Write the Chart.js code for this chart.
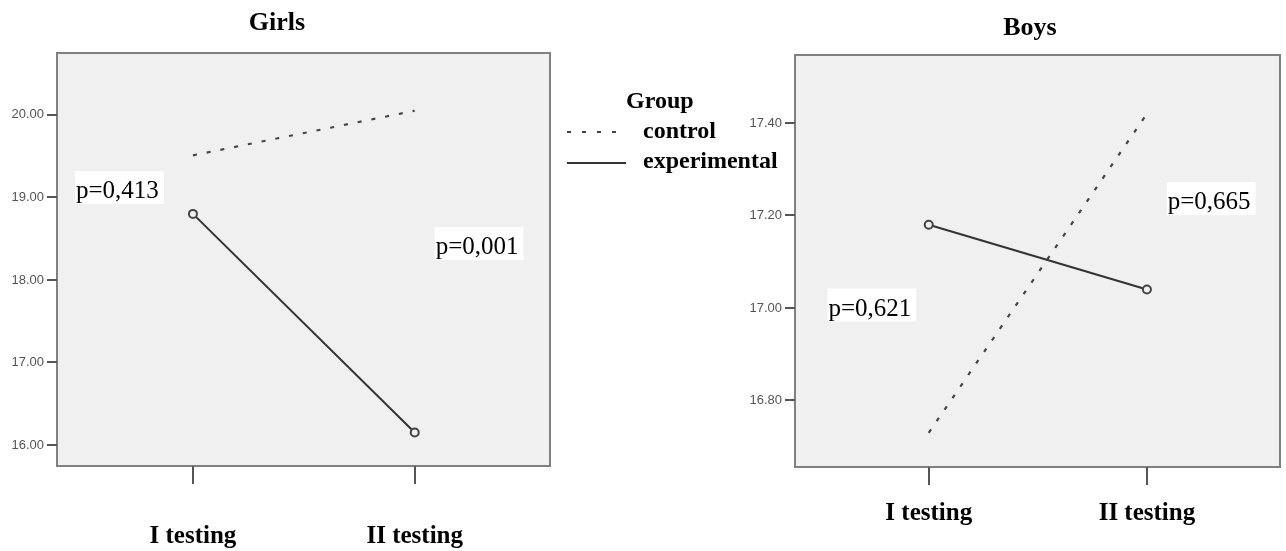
<!DOCTYPE html>
<html>
<head>
<meta charset="utf-8">
<script src="https://cdn.jsdelivr.net/npm/chart.js@4.4.1/dist/chart.umd.min.js"></script>
<style>
  html, body { margin: 0; padding: 0; background: #fff; }
  body { width: 1286px; height: 551px; position: relative; overflow: hidden; }
  #girls-chart { position: absolute; left: 0; top: 0; }
  #boys-chart { position: absolute; left: 700px; top: 0; }
</style>
</head>
<body>
<canvas id="girls-chart" width="790" height="551"></canvas>
<canvas id="boys-chart" width="586" height="551"></canvas>
<script>
// values
const categories = ["I testing", "II testing"];
const girlsControl = [19.51, 20.05];
const girlsExperimental = [18.80, 16.15];
const boysControl = [16.73, 17.42];
const boysExperimental = [17.18, 17.04];
const girlsTicks = [16, 17, 18, 19, 20];
const boysTicks = [16.8, 17.0, 17.2, 17.4];
const legendTitle = "Group";
const groupNames = ["control", "experimental"];

// p-value notes, placed in data units (x = testing index, y = value at the box top)
const girlsNotes = [
    { text: "p=0,413", x: 0.468, y: 19.32 },
    { text: "p=0,001", x: 2.09, y: 18.64 }
];
const boysNotes = [
    { text: "p=0,621", x: 0.536, y: 17.042 },
    { text: "p=0,665", x: 2.091, y: 17.272 }
];

const serif = "'Liberation Serif', 'Times New Roman', serif";

function toPoints(values) {
    return values.map((v, i) => ({ x: i + 1, y: v }));
}

// background, frame, title, notes and (optionally) the shared legend
const panelDecor = {
    id: "panelDecor",
    beforeDraw(chart, args, opts) {
        const { ctx, chartArea: a } = chart;
        ctx.save();
        ctx.fillStyle = "#f0f0f0";
        ctx.fillRect(a.left, a.top, a.right - a.left, a.bottom - a.top);
        ctx.strokeStyle = "#808080";
        ctx.lineWidth = 2;
        ctx.strokeRect(a.left, a.top, a.right - a.left, a.bottom - a.top);
        ctx.restore();
    },
    afterDatasetsDraw(chart, args, opts) {
        const { ctx } = chart;
        const xs = chart.scales.x, ys = chart.scales.y;
        ctx.save();
        ctx.font = "25px " + serif;
        ctx.textBaseline = "alphabetic";
        ctx.textAlign = "left";
        opts.notes.forEach(n => {
            const left = xs.getPixelForValue(n.x);
            const top = ys.getPixelForValue(n.y);
            const w = ctx.measureText(n.text).width + 6;
            ctx.fillStyle = "#ffffff";
            ctx.fillRect(left, top, w, 33);
            ctx.fillStyle = "#000000";
            ctx.fillText(n.text, left + 1, top + 27);
        });
        ctx.restore();
    },
    afterDraw(chart, args, opts) {
        const { ctx } = chart;
        ctx.save();
        ctx.fillStyle = "#000";
        ctx.font = "bold 26px " + serif;
        ctx.textAlign = "center";
        ctx.textBaseline = "middle";
        ctx.fillText(opts.title, opts.titleX, opts.titleY);

        if (opts.legend) {
            const lg = opts.legend;
            ctx.font = "bold 24px " + serif;
            ctx.textAlign = "left";
            ctx.fillText(legendTitle, lg.x + 59, lg.y);
            ctx.fillText(groupNames[0], lg.x + 76, lg.y + 30);
            ctx.fillText(groupNames[1], lg.x + 76, lg.y + 60);
            ctx.strokeStyle = "#444";
            ctx.lineWidth = 2;
            ctx.setLineDash([4, 11]);
            ctx.beginPath();
            ctx.moveTo(lg.x, lg.y + 30);
            ctx.lineTo(lg.x + 52, lg.y + 30);
            ctx.stroke();
            ctx.setLineDash([]);
            ctx.strokeStyle = "#333";
            ctx.beginPath();
            ctx.moveTo(lg.x, lg.y + 61);
            ctx.lineTo(lg.x + 59, lg.y + 61);
            ctx.stroke();
        }
        ctx.restore();
    }
};

function makePanel(canvasId, control, experimental, yTicks, yMin, yMax, deco, layout) {
    return new Chart(document.getElementById(canvasId), {
        type: "line",
        data: {
            datasets: [
                {
                    label: groupNames[0],
                    data: toPoints(control),
                    borderColor: "#444",
                    borderWidth: 2.2,
                    borderDash: [4, 10],
                    pointRadius: 0
                },
                {
                    label: groupNames[1],
                    data: toPoints(experimental),
                    borderColor: "#333",
                    borderWidth: 2,
                    pointRadius: 4,
                    pointBorderWidth: 2,
                    pointBorderColor: "#444",
                    pointBackgroundColor: "#f0f0f0"
                }
            ]
        },
        options: {
            responsive: false,
            animation: false,
            layout: { padding: layout.padding },
            plugins: {
                legend: { display: false },
                tooltip: { enabled: false },
                panelDecor: deco
            },
            scales: {
                x: {
                    type: "linear",
                    min: 0.387,
                    max: 2.61,
                    afterBuildTicks: s => { s.ticks = categories.map((c, i) => ({ value: i + 1 })); },
                    afterFit: s => { s.height = layout.xHeight; },
                    border: { display: false },
                    grid: { drawOnChartArea: false, tickLength: 18, color: "#555", lineWidth: 2 },
                    ticks: {
                        callback: v => categories[v - 1],
                        color: "#000",
                        padding: layout.xPad,
                        maxRotation: 0,
                        font: { family: serif, size: 25, weight: "bold" }
                    }
                },
                y: {
                    min: yMin,
                    max: yMax,
                    afterBuildTicks: s => { s.ticks = yTicks.map(v => ({ value: v })); },
                    afterFit: s => { s.width = layout.yWidth; },
                    border: { display: false },
                    grid: { drawOnChartArea: false, tickLength: 10, color: "#555", lineWidth: 2 },
                    ticks: {
                        callback: v => Number(v).toFixed(2),
                        color: "#555",
                        padding: 3,
                        font: { family: "'Liberation Sans', Arial, sans-serif", size: 13 }
                    }
                }
            }
        },
        plugins: [panelDecor]
    });
}

makePanel("girls-chart", girlsControl, girlsExperimental, girlsTicks, 15.745, 20.75,
    { title: "Girls", titleX: 277, titleY: 23, notes: girlsNotes, legend: { x: 567, y: 102 } },
    { padding: { left: 0, top: 53, right: 240, bottom: 0 }, yWidth: 57, xHeight: 85, xPad: 38 });

makePanel("boys-chart", boysControl, boysExperimental, boysTicks, 16.656, 17.547,
    { title: "Boys", titleX: 330, titleY: 28, notes: boysNotes, legend: null },
    { padding: { left: 0, top: 55, right: 1, bottom: 0 }, yWidth: 95, xHeight: 84, xPad: 14 });
</script>
</body>
</html>
